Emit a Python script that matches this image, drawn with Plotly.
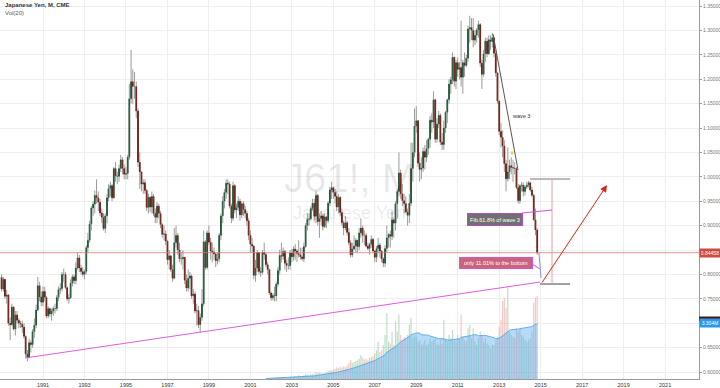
import pandas as pd
import plotly.graph_objects as go

# ---------------- data (monthly, Jan 1989 .. Nov 2014) ----------------
first_open = 0.794
close_px = [
    0.770,0.790,0.755,0.758,0.700,0.697,0.733,0.688,0.717,0.706,0.700,0.698,  # 1989
    0.692,0.673,0.637,0.630,0.660,0.656,0.683,0.696,0.727,0.777,0.754,0.743,  # 1990
    0.765,0.753,0.715,0.730,0.719,0.725,0.730,0.730,0.753,0.769,0.771,0.800,  # 1991
    0.800,0.773,0.750,0.752,0.782,0.795,0.787,0.813,0.834,0.813,0.806,0.800,  # 1992
    0.806,0.855,0.870,0.903,0.936,0.944,0.962,0.957,0.948,0.926,0.917,0.894,  # 1993
    0.920,0.957,0.976,0.982,0.957,1.017,1.002,1.001,1.017,1.035,1.017,1.005,  # 1994
    1.007,1.040,1.160,1.195,1.185,1.185,1.135,1.030,1.010,0.985,0.988,0.972,  # 1995
    0.937,0.958,0.938,0.960,0.925,0.917,0.940,0.925,0.902,0.882,0.883,0.868,  # 1996
    0.830,0.838,0.810,0.792,0.865,0.880,0.850,0.832,0.832,0.835,0.788,0.772,  # 1997
    0.792,0.797,0.756,0.760,0.725,0.726,0.697,0.712,0.740,0.867,0.814,0.885,  # 1998
    0.866,0.848,0.846,0.842,0.828,0.832,0.880,0.920,0.950,0.968,0.987,0.985,  # 1999
    0.940,0.915,0.982,0.932,0.937,0.950,0.922,0.945,0.933,0.925,0.910,0.880,  # 2000
    0.862,0.858,0.798,0.813,0.845,0.806,0.804,0.845,0.841,0.820,0.810,0.762,  # 2001
    0.752,0.757,0.756,0.780,0.808,0.839,0.837,0.847,0.823,0.818,0.818,0.844,  # 2002
    0.836,0.852,0.848,0.843,0.840,0.836,0.832,0.857,0.900,0.913,0.914,0.935,  # 2003
    0.946,0.919,0.962,0.908,0.914,0.920,0.898,0.918,0.910,0.946,0.973,0.978,  # 2004
    0.968,0.960,0.938,0.958,0.927,0.906,0.895,0.906,0.886,0.865,0.840,0.852,  # 2005
    0.858,0.870,0.857,0.885,0.895,0.880,0.880,0.858,0.853,0.862,0.872,0.848,  # 2006
    0.835,0.853,0.860,0.848,0.832,0.823,0.853,0.875,0.882,0.878,0.912,0.905,  # 2007
    0.945,0.970,1.008,0.965,0.951,0.945,0.928,0.921,0.946,1.017,1.050,1.104,  # 2008
    1.115,1.028,1.015,1.018,1.052,1.040,1.058,1.077,1.116,1.112,1.158,1.077,  # 2009
    1.108,1.126,1.071,1.066,1.100,1.132,1.158,1.190,1.199,1.245,1.196,1.234,  # 2010
    1.220,1.224,1.204,1.234,1.228,1.243,1.303,1.306,1.300,1.280,1.290,1.301,  # 2011
    1.312,1.233,1.210,1.252,1.278,1.252,1.281,1.277,1.285,1.253,1.213,1.155,  # 2012
    1.093,1.081,1.063,1.027,0.996,1.010,1.023,1.019,1.018,1.017,0.978,0.951,  # 2013
    0.982,0.983,0.970,0.979,0.983,0.988,0.973,0.962,0.912,0.891,0.84458,      # 2014
]
high_px = [
    0.800,0.795,0.790,0.768,0.760,0.712,0.740,0.735,0.725,0.725,0.710,0.705,
    0.705,0.700,0.675,0.645,0.668,0.665,0.688,0.710,0.738,0.795,0.785,0.765,
    0.775,0.775,0.755,0.735,0.732,0.730,0.735,0.740,0.758,0.775,0.782,0.805,
    0.812,0.805,0.775,0.760,0.790,0.800,0.800,0.825,0.845,0.840,0.820,0.815,
    0.810,0.860,0.885,0.910,0.940,0.950,0.972,0.995,0.970,0.955,0.935,0.925,
    0.925,0.965,0.985,0.990,0.985,1.020,1.030,1.010,1.025,1.045,1.040,1.025,
    1.020,1.045,1.190,1.260,1.220,1.215,1.195,1.140,1.050,1.010,0.995,0.995,
    0.975,0.965,0.960,0.970,0.965,0.935,0.948,0.945,0.930,0.905,0.900,0.890,
    0.870,0.850,0.840,0.820,0.895,0.900,0.885,0.865,0.845,0.850,0.835,0.800,
    0.810,0.805,0.800,0.770,0.765,0.740,0.735,0.720,0.770,0.890,0.870,0.890,
    0.900,0.875,0.865,0.855,0.845,0.845,0.885,0.925,0.960,0.975,0.995,0.995,
    0.990,0.945,0.990,0.985,0.945,0.960,0.955,0.950,0.950,0.940,0.930,0.915,
    0.890,0.875,0.860,0.830,0.850,0.845,0.815,0.850,0.865,0.845,0.825,0.812,
    0.765,0.762,0.775,0.785,0.815,0.850,0.865,0.855,0.850,0.830,0.835,0.850,
    0.852,0.858,0.862,0.852,0.870,0.855,0.855,0.865,0.905,0.925,0.925,0.940,
    0.955,0.955,0.970,0.965,0.925,0.930,0.925,0.925,0.920,0.950,0.980,0.990,
    0.980,0.975,0.970,0.965,0.960,0.935,0.910,0.920,0.910,0.895,0.870,0.865,
    0.880,0.875,0.870,0.895,0.915,0.900,0.890,0.885,0.865,0.865,0.880,0.875,
    0.850,0.858,0.875,0.865,0.850,0.835,0.860,0.900,0.885,0.890,0.930,0.915,
    0.950,0.975,1.050,1.015,0.985,0.965,0.960,0.935,0.965,1.070,1.070,1.140,
    1.145,1.115,1.050,1.040,1.060,1.065,1.075,1.080,1.125,1.130,1.175,1.160,
    1.120,1.135,1.130,1.090,1.115,1.135,1.160,1.200,1.205,1.255,1.245,1.240,
    1.245,1.235,1.320,1.240,1.255,1.250,1.310,1.330,1.325,1.325,1.300,1.305,
    1.320,1.315,1.240,1.260,1.285,1.285,1.290,1.290,1.295,1.285,1.260,1.215,
    1.155,1.110,1.095,1.075,1.035,1.060,1.035,1.040,1.035,1.030,1.020,0.985,
    0.985,0.990,0.988,0.983,0.990,0.991,0.990,0.980,0.965,0.935,0.895,
]
low_px = [
    0.765,0.765,0.750,0.740,0.695,0.665,0.695,0.685,0.675,0.700,0.690,0.690,
    0.680,0.668,0.630,0.622,0.628,0.640,0.650,0.670,0.690,0.725,0.745,0.735,
    0.735,0.745,0.710,0.710,0.713,0.705,0.715,0.720,0.725,0.745,0.760,0.765,
    0.785,0.770,0.745,0.740,0.750,0.775,0.780,0.780,0.810,0.805,0.800,0.795,
    0.790,0.800,0.845,0.865,0.890,0.920,0.925,0.945,0.930,0.920,0.905,0.890,
    0.885,0.905,0.950,0.960,0.950,0.955,0.990,0.985,0.990,1.010,1.005,0.995,
    0.995,0.995,1.035,1.150,1.150,1.160,1.120,1.020,0.975,0.970,0.965,0.965,
    0.930,0.925,0.928,0.925,0.920,0.905,0.905,0.915,0.895,0.875,0.870,0.860,
    0.820,0.810,0.805,0.785,0.790,0.855,0.840,0.825,0.820,0.810,0.780,0.765,
    0.765,0.770,0.750,0.740,0.720,0.695,0.690,0.680,0.705,0.735,0.810,0.810,
    0.860,0.830,0.825,0.830,0.815,0.820,0.825,0.870,0.905,0.935,0.955,0.965,
    0.935,0.905,0.910,0.925,0.915,0.930,0.910,0.915,0.920,0.915,0.900,0.870,
    0.845,0.845,0.790,0.785,0.805,0.800,0.795,0.800,0.830,0.815,0.800,0.758,
    0.746,0.747,0.745,0.745,0.775,0.800,0.825,0.830,0.810,0.805,0.810,0.810,
    0.825,0.828,0.830,0.825,0.835,0.830,0.828,0.825,0.855,0.890,0.900,0.910,
    0.930,0.910,0.905,0.900,0.875,0.900,0.890,0.895,0.895,0.905,0.940,0.955,
    0.955,0.945,0.930,0.925,0.920,0.900,0.880,0.890,0.880,0.860,0.835,0.835,
    0.850,0.845,0.845,0.850,0.875,0.865,0.860,0.855,0.850,0.840,0.855,0.845,
    0.825,0.825,0.845,0.835,0.825,0.815,0.815,0.845,0.855,0.855,0.870,0.875,
    0.890,0.915,0.960,0.955,0.940,0.925,0.925,0.900,0.905,0.940,0.990,1.040,
    1.090,1.020,0.990,0.995,1.010,1.015,1.030,1.045,1.060,1.090,1.100,1.070,
    1.070,1.100,1.065,1.055,1.055,1.090,1.110,1.150,1.170,1.190,1.185,1.180,
    1.205,1.200,1.185,1.170,1.205,1.225,1.235,1.275,1.280,1.265,1.270,1.275,
    1.285,1.225,1.180,1.205,1.235,1.245,1.250,1.260,1.265,1.245,1.205,1.150,
    1.085,1.060,1.040,1.010,0.970,0.990,0.995,1.005,0.990,1.005,0.975,0.945,
    0.945,0.970,0.960,0.962,0.975,0.978,0.970,0.958,0.910,0.880,0.840,
]

vol_start = "2001-10-01"
volume_m = [
    0.03,0.04,0.05,                                              # 2001 Q4
    0.05,0.06,0.08,0.07,0.09,0.12,0.10,0.09,0.11,0.10,0.12,0.14,  # 2002
    0.12,0.14,0.16,0.15,0.20,0.18,0.17,0.22,0.30,0.25,0.22,0.28,  # 2003
    0.30,0.28,0.40,0.35,0.38,0.36,0.33,0.35,0.38,0.45,0.55,0.50,  # 2004
    0.55,0.60,0.70,0.65,0.72,0.68,0.75,0.70,0.80,0.95,1.10,0.95,  # 2005
    1.00,1.05,1.10,1.20,1.40,1.25,1.15,1.20,1.10,1.25,1.30,1.35,  # 2006
    1.50,1.70,2.20,1.60,1.70,2.00,2.60,3.90,2.20,2.10,2.80,2.00,  # 2007
    3.40,2.80,3.80,2.60,2.30,2.50,2.40,2.60,3.20,3.60,2.40,2.60,  # 2008
    2.50,2.20,2.30,2.00,2.10,2.30,2.00,2.10,2.40,2.20,2.30,2.40,  # 2009
    2.10,2.00,2.30,2.10,3.50,2.40,2.20,2.60,2.40,2.90,2.30,2.20,  # 2010
    2.60,2.40,3.80,2.50,2.30,2.20,3.00,3.20,2.40,3.00,2.20,2.00,  # 2011
    2.40,2.80,2.60,2.20,2.40,2.10,2.00,1.80,2.00,2.00,2.30,2.50,  # 2012
    3.10,3.50,4.60,4.80,4.20,5.40,2.80,2.60,2.50,2.40,3.00,2.80,  # 2013
    3.00,2.60,2.50,2.30,2.20,2.30,2.40,2.80,4.50,4.80,4.90,       # 2014
]
vol_ma_label = "3.304M"
vol_ma_last = 3.304
year_ticks = list(range(1991, 2022, 2))
price_ticks = [0.60, 0.65, 0.70, 0.75, 0.80, 0.85, 0.90, 0.95, 1.00,
               1.05, 1.10, 1.15, 1.20, 1.25, 1.30, 1.35]
hidden_price_labels = [0.70, 0.85]   # covered by the right-axis value labels

# ---------------- derived ----------------
months = pd.date_range("1989-01-01", periods=len(close_px), freq="MS")
opens = [first_open] + close_px[:-1]
body_hi = [max(o, c) for o, c in zip(opens, close_px)]
body_lo = [min(o, c) for o, c in zip(opens, close_px)]

wick_x, wick_y = [], []
for d, o, c, h, l in zip(months, opens, close_px, high_px, low_px):
    top, bot = max(o, c), min(o, c)
    wick_x += [d, d, None, d, d, None]
    wick_y += [max(h, top), top, None, bot, min(l, bot), None]

vol_months = pd.date_range(vol_start, periods=len(volume_m), freq="MS")
idx0 = list(months).index(vol_months[0])
vol_colors = []
for i in range(len(volume_m)):
    o, c = opens[idx0 + i], close_px[idx0 + i]
    vol_colors.append("rgba(107,180,131,0.45)" if c >= o else "rgba(215,100,90,0.35)")
vol_ma = pd.Series(volume_m).rolling(20, min_periods=1).mean()

FONT = "Liberation Sans"
fig = go.Figure()

fig.add_trace(go.Scatter(x=wick_x, y=wick_y, mode="lines",
                         line=dict(color="#9a9a9a", width=1), hoverinfo="skip"))
fig.add_trace(go.Candlestick(
    x=months, open=opens, high=body_hi, low=body_lo, close=close_px,
    increasing=dict(line=dict(color="#225437", width=1), fillcolor="#6ba583"),
    decreasing=dict(line=dict(color="#6b1f17", width=1), fillcolor="#d75442"),
    whiskerwidth=0))

fig.add_trace(go.Bar(x=vol_months, y=volume_m, marker=dict(color=vol_colors, line=dict(width=0)),
                     yaxis="y2"))
fig.add_trace(go.Scatter(x=vol_months, y=vol_ma, mode="lines", fill="tozeroy",
                         line=dict(color="rgba(80,170,235,0.9)", width=1),
                         fillcolor="rgba(90,175,240,0.45)", yaxis="y2"))

W, H = 699.0, 379.0
def px(x):
    return x / W
def py(y):
    return 1 - y / H

shapes = [
    dict(type="line", xref="paper", x0=0, x1=1, yref="y", y0=close_px[-1], y1=close_px[-1],
         line=dict(color="rgba(225,110,110,0.75)", width=1)),
    dict(type="line", xref="x", yref="y", x0="1990-02-18", y0=0.6287, x1="2014-12-20", y1=0.7844,
         line=dict(color="#e05ae0", width=1)),
    dict(type="line", xref="x", yref="y", x0="2012-09-14", y0=1.2926, x1="2013-11-28", y1=1.014,
         line=dict(color="#555555", width=1)),
    dict(type="line", xref="x", yref="y", x0="2014-06-28", y0=0.9955, x1="2016-06-03", y1=0.9955,
         line=dict(color="#777777", width=1)),
    dict(type="line", xref="x", yref="y", x0="2014-12-20", y0=0.7803, x1="2016-06-03", y1=0.7803,
         line=dict(color="#444444", width=1)),
    dict(type="line", xref="x", yref="y", x0="2015-07-20", y0=0.9955, x1="2015-07-20", y1=0.7803,
         line=dict(color="#e8a0a0", width=1)),
    dict(type="line", xref="x", yref="y", x0="2014-12-02", y0=0.8439, x1="2015-01-07", y1=0.7926,
         line=dict(color="#7f8ff0", width=1)),
    dict(type="line", xref="paper", yref="paper", x0=px(522), y0=py(213), x1=px(552), y1=py(210),
         line=dict(color="#d44fd4", width=1)),
    dict(type="line", xref="paper", yref="paper", x0=px(532), y0=py(264), x1=px(540), y1=py(269),
         line=dict(color="#d44fd4", width=1)),
    dict(type="rect", xref="paper", yref="paper", x0=1.0, x1=720 / W, y0=py(321), y1=py(316.5),
         fillcolor="#4a1a18", line=dict(width=0)),
    dict(type="circle", xref="x", yref="y", x0="2013-07-25", x1="2013-09-05", y0=1.045, y1=1.053,
         fillcolor="#f2d33a", line=dict(width=0)),
]

annotations = [
    dict(text="J61!, M", xref="paper", yref="paper", x=0.5, y=py(178), showarrow=False,
         font=dict(family=FONT, size=40, color="rgba(0,0,0,0.09)"), xanchor="center", yanchor="middle"),
    dict(text="Japanese Yen", xref="paper", yref="paper", x=0.5, y=py(213), showarrow=False,
         font=dict(family=FONT, size=18, color="rgba(0,0,0,0.09)"), xanchor="center", yanchor="middle"),
    dict(text="<b>Japanese Yen, M, CME</b>", xref="paper", yref="paper", x=px(3), y=py(5), showarrow=False,
         font=dict(family=FONT, size=6, color="#333333"), xanchor="left", yanchor="middle"),
    dict(text="Vol(20)", xref="paper", yref="paper", x=px(3), y=py(13), showarrow=False,
         font=dict(family=FONT, size=6, color="#555555"), xanchor="left", yanchor="middle"),
    dict(text="wave 3", xref="x", yref="y", x="2013-07-10", y=1.1246, showarrow=False,
         font=dict(family=FONT, size=5.5, color="#333333"), xanchor="left", yanchor="middle"),
    dict(text="Fib.61.8% of wave 3", xref="paper", yref="paper", x=px(495), y=py(219.5), showarrow=False,
         font=dict(family=FONT, size=5.5, color="#ffffff"), bgcolor="#707070", bordercolor="#b54bc0",
         borderwidth=1, borderpad=0, width=54, height=11, xanchor="center", yanchor="middle"),
    dict(text="only 11.01% to the bottom", xref="paper", yref="paper", x=px(495.5), y=py(263),
         showarrow=False, font=dict(family=FONT, size=5.5, color="#ffffff"), bgcolor="#c9647c",
         bordercolor="#d84fd8", borderwidth=1, borderpad=0, width=72, height=10,
         xanchor="center", yanchor="middle"),
    dict(text="", xref="x", yref="y", x="2018-03-15", y=0.9832, showarrow=True, ax=-66, ay=99,
         axref="pixel", ayref="pixel", arrowcolor="#e0201b", arrowwidth=1, arrowhead=2, arrowsize=1.4),
    dict(text="0.84458", xref="paper", yref="y", x=1.0, y=close_px[-1], showarrow=False,
         font=dict(family=FONT, size=5, color="#ffffff"), bgcolor="#cf4a3f", borderpad=1,
         xanchor="left", yanchor="middle", width=18),
    dict(text=vol_ma_label, xref="paper", yref="y2", x=1.0, y=vol_ma_last, showarrow=False,
         font=dict(family=FONT, size=5, color="#ffffff"), bgcolor="#2b97ec", borderpad=1,
         xanchor="left", yanchor="middle", width=18),
]

fig.update_layout(
    width=720, height=388,
    margin=dict(l=0, r=21, t=0, b=9),
    paper_bgcolor="white", plot_bgcolor="white",
    showlegend=False,
    font=dict(family=FONT, size=6, color="#444"),
    shapes=shapes, annotations=annotations,
    bargap=0.25,
    xaxis=dict(type="date", range=["1988-12-04", "2022-08-21"],
               tickvals=[f"{y}-01-01" for y in year_ticks], ticktext=[str(y) for y in year_ticks],
               showgrid=True, gridcolor="#eeeeee", gridwidth=1,
               showline=True, linecolor="#9a9a9a", linewidth=1, ticks="",
               tickfont=dict(family=FONT, size=5.5, color="#333333"),
               rangeslider=dict(visible=False), zeroline=False, fixedrange=True),
    yaxis=dict(side="right", range=[0.5857, 1.3623],
               tickvals=price_ticks,
               ticktext=["" if any(abs(t - h) < 1e-9 for h in hidden_price_labels) else f"{t:.5f}"
                         for t in price_ticks],
               showgrid=True, gridcolor="#eeeeee", gridwidth=1,
               showline=True, linecolor="#9a9a9a", linewidth=1,
               ticks="outside", ticklen=2, tickcolor="#9a9a9a",
               tickfont=dict(family=FONT, size=5, color="#777777"), zeroline=False, automargin=False,
               fixedrange=True),
    yaxis2=dict(overlaying="y", range=[0, 22.36], visible=False, fixedrange=True),
)

fig.write_html("out.html", config={"displayModeBar": False},
               post_script="document.body.style.margin='0';document.body.style.padding='0';")
